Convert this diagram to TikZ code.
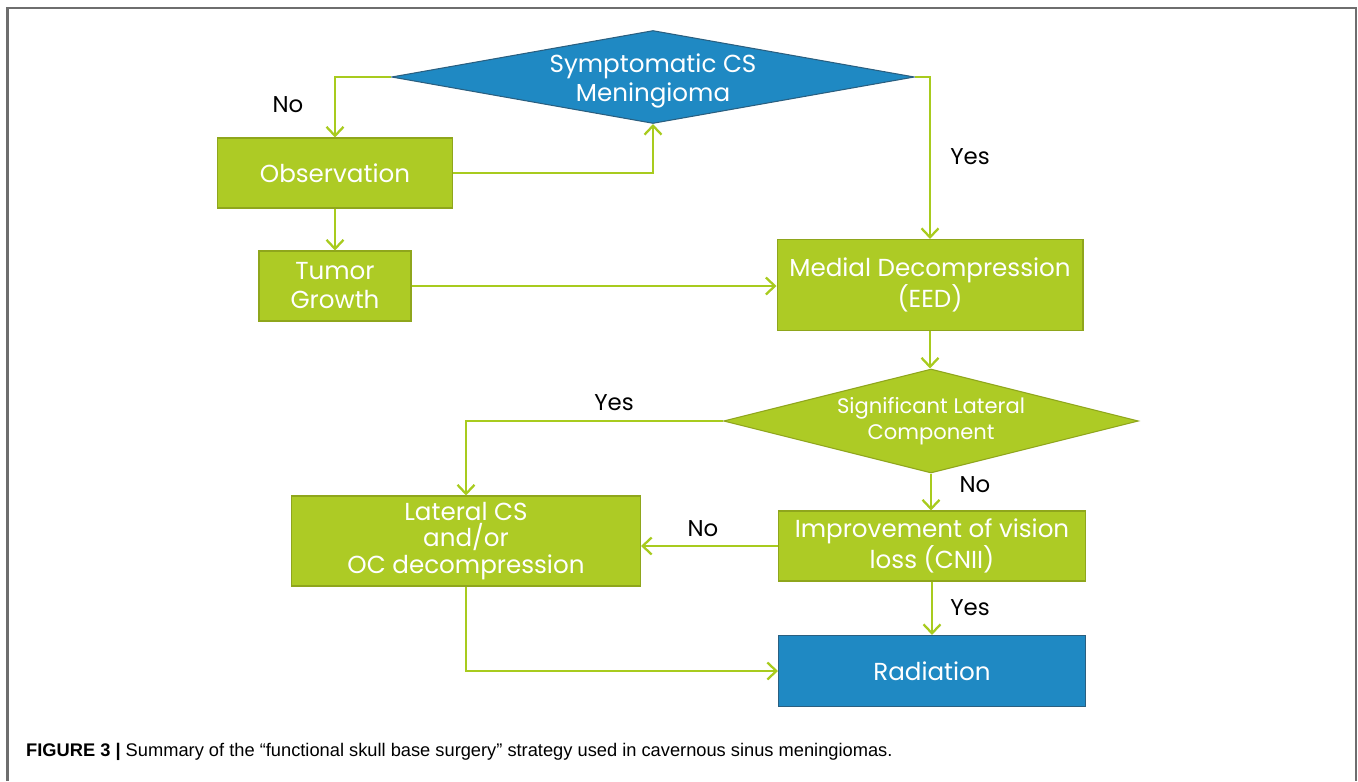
\documentclass[tikz,border=0pt]{standalone}
\usepackage{fontspec}
\setmainfont{Poppins}
\newfontfamily\capfont{Liberation Sans}
\usetikzlibrary{arrows.meta,shapes.geometric}

\definecolor{limefill}{HTML}{ADCB25}
\definecolor{limeedge}{HTML}{8FA61C}
\definecolor{limeline}{HTML}{A8CB1E}
\definecolor{bluefill}{HTML}{1F89C3}
\definecolor{blueedge}{HTML}{2A5F80}
\definecolor{framegray}{HTML}{6E6E6E}

\begin{document}
\begin{tikzpicture}[x=0.02cm,y=-0.02cm,
    box/.style={rectangle,fill=limefill,draw=limeedge,line width=0.6pt,
        text=white,align=center,inner sep=0pt,font=\fontsize{14}{16.5}\selectfont},
    bluebox/.style={box,fill=bluefill,draw=blueedge},
    decision/.style={diamond,fill=limefill,draw=limeedge,line width=0.6pt,inner sep=0pt},
    dtext/.style={text=white,align=center,inner sep=0pt,font=\fontsize{12}{15}\selectfont},
    answer/.style={text=black,font=\fontsize{13}{16}\selectfont},
    flow/.style={draw=limeline,line width=1.3pt,-{Straight Barb[length=1.8mm,width=3.4mm]}}]
    \useasboundingbox (0,0) rectangle (1358,781);
    % frame
    \draw[framegray,line width=1.2pt] (7.5,781) -- (7.5,8) -- (1356,8) -- (1356,781);
    % boxes
    \node[decision,fill=bluefill,draw=blueedge,minimum width=10.46cm,minimum height=1.86cm] (symp) at (653,77) {};
    \node[dtext,font=\fontsize{14}{16.5}\selectfont] (symptext) at ([yshift=-2]symp.center) {Symptomatic CS\\Meningioma};
    \node[box,minimum width=4.7cm,minimum height=1.4cm] (obs) at (335,173) {Observation};
    \node[box,minimum width=3.04cm,minimum height=1.4cm] (tum) at (335,286) {Tumor\\Growth};
    \node[box,minimum width=6.12cm,minimum height=1.82cm] (med) at (930,285) {Medial Decompression\\(EED)};
    \node[decision,minimum width=8.3cm,minimum height=2.08cm] (sig) at (931,421) {};
    \node[dtext] (sigtext) at (sig.center) {Significant Lateral\\Component};
    \node[box,minimum width=6.98cm,minimum height=1.8cm,font=\fontsize{14}{15.3}\selectfont] (lat) at (466,541) {Lateral CS\\and/or\\OC decompression};
    \node[box,minimum width=6.14cm,minimum height=1.4cm] (imp) at (932,546) {Improvement of vision\\loss (CNII)};
    \node[bluebox,minimum width=6.14cm,minimum height=1.42cm] (rad) at (932,671) {Radiation};
    % answers
    \node[answer] (no1) at (288,105) {No};
    \node[answer] (yes1) at (970,157) {Yes};
    \node[answer] (yes2) at (614,403) {Yes};
    \node[answer] (no2) at (975,485) {No};
    \node[answer] (no3) at (703,529) {No};
    \node[answer] (yes3) at (970,608) {Yes};
    % connectors
    \draw[flow] (symp.west) -| (obs.north);
    \draw[flow] (obs.east) -| (symp.south);
    \draw[flow] (symp.east) -| (med.north);
    \draw[flow] (obs.south) -- (tum.north);
    \draw[flow] (tum.east) -- (tum.east -| med.west);
    \draw[flow] (med.south) -- (med.south |- sig.north);
    \draw[flow] (sig.west) -| (lat.north);
    \draw[flow] (sig.south) -- (sig.south |- imp.north);
    \draw[flow] (imp.west) -- (imp.west -| lat.east);
    \draw[flow] (imp.south) -- (rad.north);
    \draw[flow] (lat.south) |- (rad.west);
    % caption
    \node[anchor=west,font=\capfont\fontsize{10.4}{12}\selectfont] (cap) at (20,752)
        {\textbf{FIGURE 3 |} Summary of the “functional skull base surgery” strategy used in cavernous sinus meningiomas.};
\end{tikzpicture}
\end{document}
